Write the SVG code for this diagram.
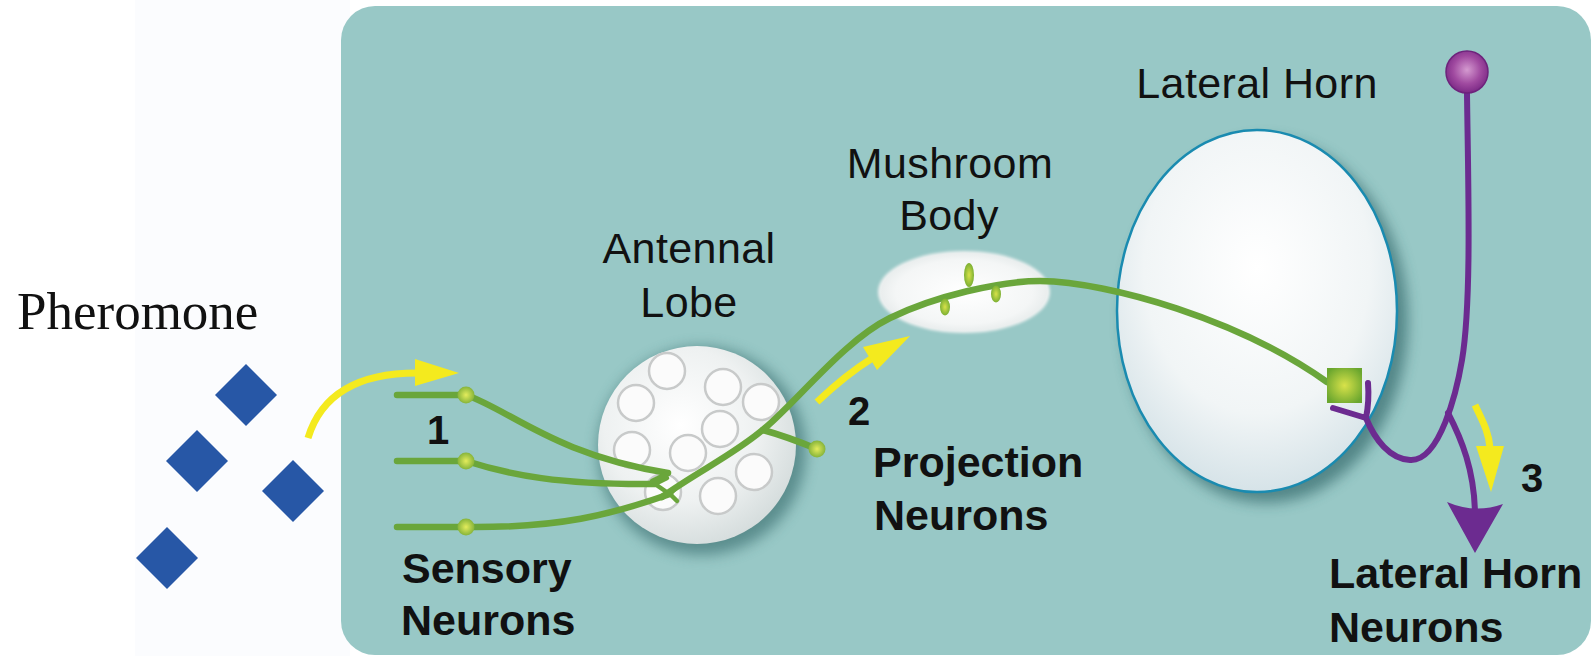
<svg xmlns="http://www.w3.org/2000/svg" width="1594" height="656" viewBox="0 0 1594 656">
  <style>
    .lbl { font-family: "Liberation Sans", Arial, sans-serif; font-size: 43px; fill: #111; letter-spacing: 0.4px; }
    .bold { font-family: "Liberation Sans", Arial, sans-serif; font-size: 43px; font-weight: bold; fill: #111; }
    .num { font-family: "Liberation Sans", Arial, sans-serif; font-size: 40px; font-weight: bold; fill: #111; }
    .axon { fill: none; stroke: #6AA63B; stroke-width: 6.5; stroke-linecap: round; stroke-linejoin: round; }
    .twig { fill: none; stroke: #6AA63B; stroke-width: 4.5; stroke-linecap: round; }
    .purple { fill: none; stroke: #6C2B90; stroke-width: 6; stroke-linecap: round; stroke-linejoin: round; }
    .flow { fill: none; stroke: #F4EA1E; stroke-width: 7; stroke-linecap: butt; }
    .flowhead { fill: #F4EA1E; }
    .glom { fill: #FBFBFB; stroke: #C8CACA; stroke-width: 2.5; }
    .pher { fill: #2757A6; }
  </style>
  <defs>
    <radialGradient id="soma" cx="0.5" cy="0.5" r="0.5">
      <stop offset="0" stop-color="#E4EC5C"/>
      <stop offset="1" stop-color="#86B43A"/>
    </radialGradient>
    <radialGradient id="synapse" cx="0.5" cy="0.5" r="0.6">
      <stop offset="0" stop-color="#D8E24A"/>
      <stop offset="1" stop-color="#6AA62E"/>
    </radialGradient>
    <radialGradient id="lhSoma" cx="0.5" cy="0.45" r="0.55">
      <stop offset="0" stop-color="#D49AD0"/>
      <stop offset="0.6" stop-color="#A04AA0"/>
      <stop offset="1" stop-color="#7C2A86"/>
    </radialGradient>
    <radialGradient id="alFill" cx="0.42" cy="0.4" r="0.65">
      <stop offset="0" stop-color="#FFFFFF"/>
      <stop offset="0.6" stop-color="#EEF1F1"/>
      <stop offset="1" stop-color="#D3DBDB"/>
    </radialGradient>
    <radialGradient id="lhFill" cx="0.5" cy="0.38" r="0.62">
      <stop offset="0" stop-color="#FFFFFF"/>
      <stop offset="0.65" stop-color="#F1F5F6"/>
      <stop offset="1" stop-color="#D6E3E8"/>
    </radialGradient>
    <radialGradient id="mbFill" cx="0.5" cy="0.5" r="0.55">
      <stop offset="0" stop-color="#FFFFFF"/>
      <stop offset="0.75" stop-color="#F4F6F6"/>
      <stop offset="1" stop-color="#E4E9E9"/>
    </radialGradient>
    <filter id="shade" x="-30%" y="-30%" width="160%" height="160%">
      <feGaussianBlur stdDeviation="7"/>
    </filter>
    <filter id="soft" x="-20%" y="-30%" width="140%" height="160%">
      <feGaussianBlur stdDeviation="1.5"/>
    </filter>
  </defs>

  <!-- page -->
  <rect x="0" y="0" width="1594" height="656" fill="#FFFFFF"/>
  <rect x="135" y="0" width="215" height="656" fill="#FBFCFE"/>

  <!-- brain panel -->
  <g id="panel">
    <rect x="341" y="6" width="1250" height="649" rx="34" ry="34" fill="#98C8C6"/>
  </g>

  <!-- pheromone molecules -->
  <g id="pheromone">
    <text x="17" y="329" font-family="'Liberation Serif', 'Times New Roman', serif" font-size="53" fill="#111">Pheromone</text>
    <polygon class="pher" points="246,364 277,395 246,426 215,395"/>
    <polygon class="pher" points="197,430 228,461 197,492 166,461"/>
    <polygon class="pher" points="293,460 324,491 293,522 262,491"/>
    <polygon class="pher" points="167,527 198,558 167,589 136,558"/>
  </g>

  <!-- antennal lobe -->
  <g id="antennal-lobe">
    <circle cx="702" cy="451" r="104" fill="#3A6E70" opacity="0.65" filter="url(#shade)"/>
    <circle cx="697" cy="445" r="99" fill="url(#alFill)"/>
    <circle class="glom" cx="667" cy="371" r="18"/>
    <circle class="glom" cx="636" cy="403" r="18"/>
    <circle class="glom" cx="723" cy="387" r="18"/>
    <circle class="glom" cx="761" cy="402" r="18"/>
    <circle class="glom" cx="720" cy="429" r="18"/>
    <circle class="glom" cx="632" cy="450" r="18"/>
    <circle class="glom" cx="688" cy="453" r="18"/>
    <circle class="glom" cx="754" cy="472" r="18"/>
    <circle class="glom" cx="718" cy="496" r="18"/>
    <circle class="glom" cx="663" cy="492" r="18"/>
    <text class="lbl" x="689" y="263" text-anchor="middle">Antennal</text>
    <text class="lbl" x="689" y="317" text-anchor="middle">Lobe</text>
  </g>

  <!-- mushroom body -->
  <g id="mushroom-body">
    <ellipse cx="964" cy="292" rx="86" ry="41" fill="#EEF1F1" filter="url(#soft)"/>
    <ellipse cx="964" cy="292" rx="83" ry="39" fill="url(#mbFill)"/>
    <text class="lbl" x="950" y="178" text-anchor="middle">Mushroom</text>
    <text class="lbl" x="949" y="230" text-anchor="middle">Body</text>
  </g>

  <!-- lateral horn -->
  <g id="lateral-horn">
    <ellipse cx="1266" cy="321" rx="142" ry="182" fill="#2F6466" opacity="0.65" filter="url(#shade)"/>
    <ellipse cx="1257" cy="311" rx="140" ry="181" fill="url(#lhFill)" stroke="#1A8BB0" stroke-width="2.5"/>
    <text class="lbl" x="1257" y="98" text-anchor="middle">Lateral Horn</text>
  </g>

  <!-- neurons and signal flow -->
  <g id="connectors">
    <!-- olfactory sensory neurons -->
    <path class="axon" d="M397,395 L466,395 C510,410 555,455 668,473"/>
    <path class="axon" d="M397,461 L466,461 C510,475 560,485 655,484"/>
    <path class="axon" d="M397,527 L466,527 C560,528 610,515 670,494"/>
    <path class="twig" d="M668,473 L652,481 M655,484 L667,478 M655,484 L668,493 M670,494 L677,487 M670,494 L677,501"/>

    <!-- projection neuron -->
    <path class="axon" d="M662,497 C700,470 735,454 765,428 C800,398 845,340 890,318 C935,296 1000,281 1040,281 C1110,282 1240,320 1327,382"/>
    <path class="axon" d="M763,430 C785,436 800,442 817,449"/>
    <ellipse cx="969" cy="275" rx="5" ry="12" fill="url(#synapse)"/>
    <ellipse cx="996" cy="294" rx="5" ry="8.5" fill="url(#synapse)"/>
    <ellipse cx="945" cy="307" rx="5" ry="8.5" fill="url(#synapse)"/>
    <rect x="1327" y="368" width="35" height="35" fill="url(#synapse)"/>

    <!-- cell bodies -->
    <circle cx="466" cy="395" r="8.5" fill="url(#soma)"/>
    <circle cx="466" cy="461" r="8.5" fill="url(#soma)"/>
    <circle cx="466" cy="527" r="8.5" fill="url(#soma)"/>
    <circle cx="817" cy="449" r="8.5" fill="url(#soma)"/>

    <!-- lateral horn neuron -->
    <path class="purple" d="M1467,93 C1468,180 1472,300 1462,360 C1457,390 1440,462 1410,460 C1390,459 1375,440 1366,418"/>
    <path class="purple" d="M1333,408 L1366,418 M1368,383 C1369,396 1368,408 1366,418"/>
    <path class="purple" d="M1448,413 C1462,440 1474,470 1475,512"/>
    <path d="M1475,553 L1447,502 Q1475,514 1503,504 Z" fill="#6C2B90"/>
    <circle cx="1467" cy="72" r="21" fill="url(#lhSoma)" stroke="#6E237C" stroke-width="1.5"/>

    <!-- signal flow arrows -->
    <path class="flow" d="M308,438 C318,405 345,373 417,373"/>
    <polygon class="flowhead" points="415,359 459,373 415,386"/>
    <path class="flow" d="M817,402 C835,385 850,372 871,359"/>
    <polygon class="flowhead" points="863,347 910,336 877,370"/>
    <path class="flow" d="M1475,405 C1482,420 1489,432 1490,448"/>
    <polygon class="flowhead" points="1476,446 1504,446 1491,492"/>
  </g>

  <!-- stage numbers and cell-type labels -->
  <g id="labels">
    <text class="num" x="427" y="444">1</text>
    <text class="num" x="848" y="425">2</text>
    <text class="num" x="1521" y="492">3</text>
    <text class="bold" x="402" y="583">Sensory</text>
    <text class="bold" x="401" y="635">Neurons</text>
    <text class="bold" x="873" y="477">Projection</text>
    <text class="bold" x="874" y="530">Neurons</text>
    <text class="bold" x="1329" y="588">Lateral Horn</text>
    <text class="bold" x="1329" y="642">Neurons</text>
  </g>
</svg>
